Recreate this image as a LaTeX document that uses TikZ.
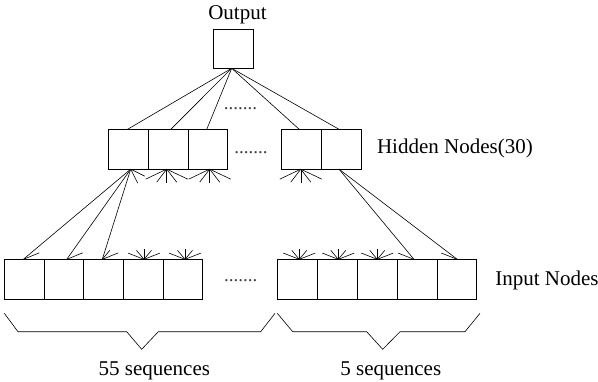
\documentclass[tikz,border=0pt]{standalone}
\usepackage{fontspec}
\setmainfont{Liberation Serif}
\begin{document}
\begin{tikzpicture}[x=1pt,y=-1pt,
  line width=0.7pt,
  box/.style={draw, minimum width=39.7pt, minimum height=39.7pt, inner sep=0pt, outer sep=0pt},
  lbl/.style={anchor=base west, inner sep=0pt, font=\fontsize{21}{25}\selectfont},
  dotsnode/.style={anchor=base, inner sep=0pt, font=\fontsize{19}{23}\selectfont, text=black!75},
  conn/.style={line width=0.6pt},
  brace/.style={line width=0.6pt},
]
\useasboundingbox (0,0) rectangle (598,381);

% output
\node[box, minimum height=39pt, minimum width=40pt] (out) at (233.3,48.8) {};
\node[anchor=base, inner sep=0pt, font=\fontsize{21}{25}\selectfont] (outl) at (237.5,19.5) {Output};

% hidden nodes
\node[box] (h1) at (128.3,149.3) {};
\node[box] (h2) at (168,149.3) {};
\node[box] (h3) at (207.7,149.3) {};
\node[box] (h4) at (301.6,149.3) {};
\node[box] (h5) at (341.3,149.3) {};
\node[lbl] (hl) at (376.7,153.3) {Hidden Nodes(30)};

% input nodes
\node[box] (a1) at (24.2,279.2) {};
\node[box] (a2) at (63.9,279.2) {};
\node[box] (a3) at (103.5,279.2) {};
\node[box] (a4) at (143.2,279.2) {};
\node[box] (a5) at (182.8,279.2) {};
\node[box] (b1) at (297.6,279.2) {};
\node[box] (b2) at (337.4,279.2) {};
\node[box] (b3) at (377.2,279.2) {};
\node[box] (b4) at (417,279.2) {};
\node[box] (b5) at (456.8,279.2) {};
\node[lbl] (il) at (495,285) {Input Nodes};

% dots
\node[dotsnode] (d1) at (240.5,109) {.......};
\node[dotsnode] (d2) at (251,153) {.......};
\node[dotsnode] (d3) at (240.7,281) {.......};

% attachment points
\coordinate (ob) at ([xshift=-1.6pt]out.south);
\coordinate (h1t) at ([xshift=-1pt]h1.north);
\coordinate (h2t) at ([xshift=2.7pt]h2.north);
\coordinate (h3t) at ([xshift=-1pt]h3.north);
\coordinate (h4t) at ([xshift=-2.2pt]h4.north);
\coordinate (h5t) at ([xshift=-2pt]h5.north);
\coordinate (h1b) at ([xshift=2.4pt]h1.south);
\coordinate (h2b) at ([xshift=-1.3pt]h2.south);
\coordinate (h3b) at ([xshift=2pt]h3.south);
\coordinate (h4b) at ([xshift=-0.8pt]h4.south);
\coordinate (h5b) at ([xshift=-2.3pt]h5.south);
\coordinate (a1t) at ([xshift=-0.9pt]a1.north);
\coordinate (a2t) at ([xshift=2.8pt]a2.north);
\coordinate (a3t) at ([xshift=-1.2pt]a3.north);
\coordinate (a4t) at ([xshift=0.8pt]a4.north);
\coordinate (a5t) at ([xshift=2.2pt]a5.north);
\coordinate (b1t) at ([xshift=1.7pt]b1.north);
\coordinate (b2t) at ([xshift=0.9pt]b2.north);
\coordinate (b3t) at ([xshift=0.1pt]b3.north);
\coordinate (b4t) at ([xshift=-3pt]b4.north);
\coordinate (b5t) at ([xshift=0.5pt]b5.north);

% output to hidden
\foreach \h in {h1t,h2t,h3t,h4t,h5t} \draw[conn] (ob) -- (\h);

% hidden to input
\draw[conn] (h1b) -- (a1t);
\draw[conn] (h1b) -- (a2t);
\draw[conn] (h1b) -- (a3t);
\draw[conn] (h5b) -- (b4t);
\draw[conn] (h5b) -- (b5t);

% downward fans under hidden nodes
\foreach \p in {h2b,h3b,h4b}
  \foreach \dx/\dy in {-21/10,-10/13,0/14,10/13,21/10}
    \draw[conn] (\p) -- ++(\dx,\dy);
\foreach \dx/\dy in {14/7,7/14}
  \draw[conn] (h1b) -- ++(\dx,\dy);

% upward fans above input nodes
\foreach \p in {a4t,a5t,b1t,b2t,b3t}
  \foreach \dx/\dy in {-16/-6.3,-7.5/-9,0/-10,7.5/-9,16/-6.3}
    \draw[conn] (\p) -- ++(\dx,\dy);
\foreach \p in {a1t,a2t,a3t}
  \draw[conn] (\p) -- ++(16,-6.5);
\draw[conn] (a3t) -- ++(7.5,-9);
\foreach \p in {b4t,b5t}
  \draw[conn] (\p) -- ++(-16,-6.3);

% braces
\draw[brace] (4.3,313.3) -- (18,331.7) -- (126.7,331.7) -- (141.7,349.3) -- (158.3,331.7) -- (260.7,331.7) -- (275,313.3);
\draw[brace] (277.3,313.3) -- (292.7,331.7) -- (366.7,331.7) -- (382.7,349.3) -- (400,331.7) -- (465,331.7) -- (480,313.3);

\node[lbl] (s55) at (98.3,375) {55 sequences};
\node[lbl] (s5) at (340,375) {5 sequences};
\end{tikzpicture}
\end{document}
